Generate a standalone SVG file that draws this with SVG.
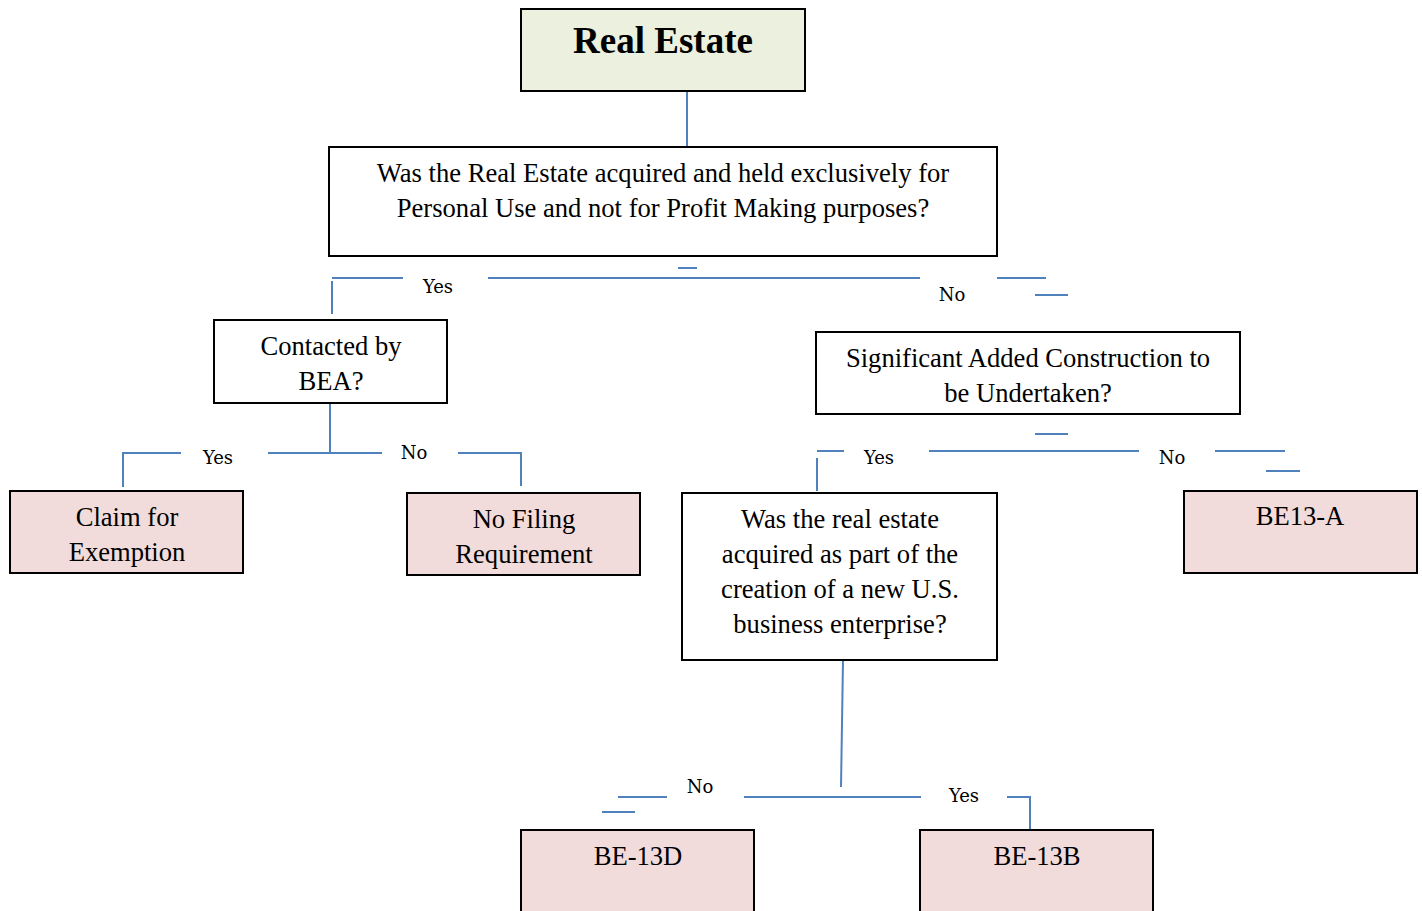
<svg xmlns="http://www.w3.org/2000/svg" width="1422" height="911" viewBox="0 0 1422 911">
<style>
.box{stroke:#000;stroke-width:2}
.w{fill:#fff}
.g{fill:#ebf1de}
.p{fill:#f2dcdb}
.t{font-family:"Liberation Serif","Times New Roman",serif;font-size:26.6px;fill:#000;text-anchor:middle}
.h{font-family:"Liberation Serif","Times New Roman",serif;font-size:37px;font-weight:bold;fill:#000;text-anchor:middle}
.l{font-family:"DejaVu Serif","Liberation Serif",serif;font-size:18px;fill:#000;text-anchor:middle}
#connectors line{stroke:#4f81bd;stroke-width:2}
</style>
<rect width="1422" height="911" fill="#fff"/>
<g id="connectors">
<line x1="687" y1="91" x2="687" y2="147"/>
<line x1="678" y1="268" x2="697" y2="268"/>
<line x1="332" y1="278" x2="403" y2="278"/>
<line x1="332" y1="281" x2="332" y2="314"/>
<line x1="488" y1="278" x2="920" y2="278"/>
<line x1="997" y1="278" x2="1046" y2="278"/>
<line x1="1035" y1="295" x2="1068" y2="295"/>
<line x1="330" y1="403" x2="330" y2="453"/>
<line x1="268" y1="453" x2="382" y2="453"/>
<line x1="123" y1="453" x2="181" y2="453"/>
<line x1="123" y1="452" x2="123" y2="487"/>
<line x1="458" y1="453" x2="521" y2="453"/>
<line x1="521" y1="452" x2="521" y2="486"/>
<line x1="1035" y1="434" x2="1068" y2="434"/>
<line x1="817" y1="451" x2="844" y2="451"/>
<line x1="817" y1="458" x2="817" y2="491"/>
<line x1="929" y1="451" x2="1139" y2="451"/>
<line x1="1215" y1="451" x2="1285" y2="451"/>
<line x1="1266" y1="471" x2="1300" y2="471"/>
<line x1="843" y1="660" x2="841" y2="787"/>
<line x1="744" y1="797" x2="921" y2="797"/>
<line x1="618" y1="797" x2="667" y2="797"/>
<line x1="602" y1="812" x2="635" y2="812"/>
<line x1="1007" y1="797" x2="1030" y2="797"/>
<line x1="1030" y1="796" x2="1030" y2="829"/>
</g>
<g id="labels">
<text class="l" x="438" y="293">Yes</text>
<text class="l" x="952" y="301">No</text>
<text class="l" x="218" y="464">Yes</text>
<text class="l" x="414" y="459">No</text>
<text class="l" x="879" y="464">Yes</text>
<text class="l" x="1172" y="464">No</text>
<text class="l" x="700" y="793">No</text>
<text class="l" x="964" y="802">Yes</text>
</g>
<g id="real-estate">
<rect class="box g" x="521" y="9" width="284" height="82"/>
<text class="h" x="663" y="53">Real Estate</text>
</g>
<g id="personal-use">
<rect class="box w" x="329" y="147" width="668" height="109"/>
<text class="t" x="663" y="182">Was the Real Estate acquired and held exclusively for</text>
<text class="t" x="663" y="217">Personal Use and not for Profit Making purposes?</text>
</g>
<g id="contacted">
<rect class="box w" x="214" y="320" width="233" height="83"/>
<text class="t" x="331" y="355">Contacted by</text>
<text class="t" x="331" y="390">BEA?</text>
</g>
<g id="claim">
<rect class="box p" x="10" y="491" width="233" height="82"/>
<text class="t" x="127" y="526">Claim for</text>
<text class="t" x="127" y="561">Exemption</text>
</g>
<g id="no-filing">
<rect class="box p" x="407" y="493" width="233" height="82"/>
<text class="t" x="524" y="528">No Filing</text>
<text class="t" x="524" y="563">Requirement</text>
</g>
<g id="significant">
<rect class="box w" x="816" y="332" width="424" height="82"/>
<text class="t" x="1028" y="367">Significant Added Construction to</text>
<text class="t" x="1028" y="402">be Undertaken?</text>
</g>
<g id="new-enterprise">
<rect class="box w" x="682" y="493" width="315" height="167"/>
<text class="t" x="840" y="528">Was the real estate</text>
<text class="t" x="840" y="563">acquired as part of the</text>
<text class="t" x="840" y="598">creation of a new U.S.</text>
<text class="t" x="840" y="633">business enterprise?</text>
</g>
<g id="be13a">
<rect class="box p" x="1184" y="491" width="233" height="82"/>
<text class="t" x="1300" y="525">BE13-A</text>
</g>
<g id="be13d">
<rect class="box p" x="521" y="830" width="233" height="90"/>
<text class="t" x="638" y="865">BE-13D</text>
</g>
<g id="be13b">
<rect class="box p" x="920" y="830" width="233" height="90"/>
<text class="t" x="1037" y="865">BE-13B</text>
</g>
</svg>
